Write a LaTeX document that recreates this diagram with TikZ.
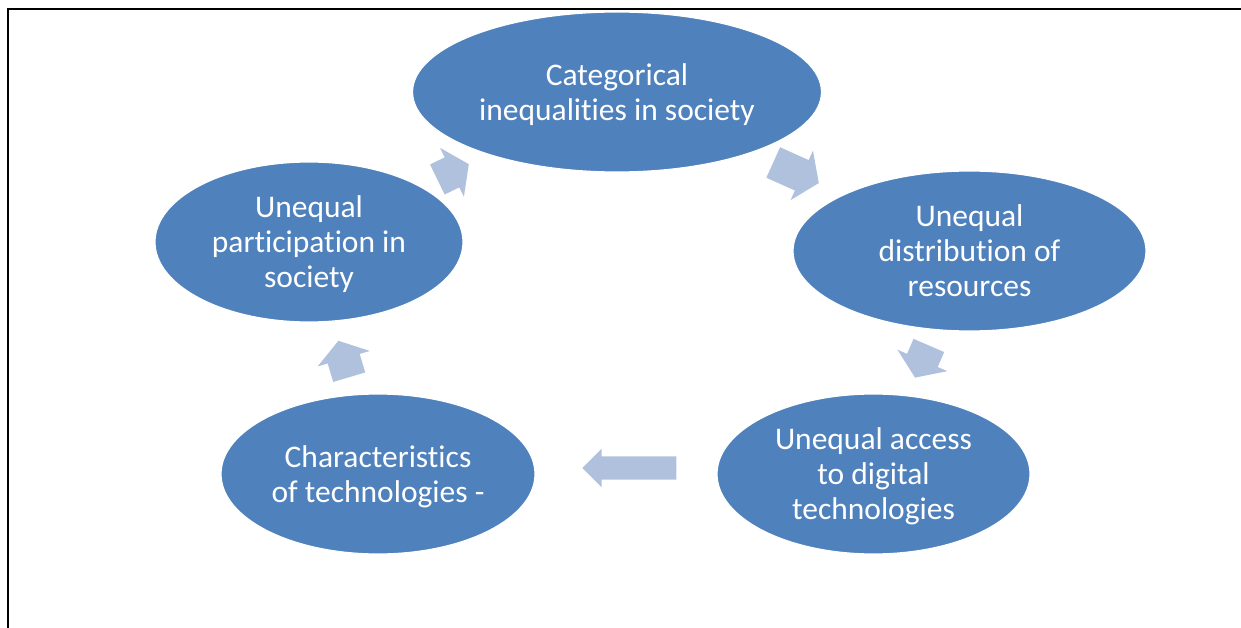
\documentclass[tikz,border=0pt]{standalone}
\usepackage{fontspec}
\setmainfont{Carlito}[Ligatures={NoCommon}]
\usetikzlibrary{shapes.geometric,shapes.arrows}
\definecolor{stageBlue}{RGB}{79,129,189}
\definecolor{arrowBlue}{RGB}{176,193,222}

\begin{document}
\begin{tikzpicture}[
        x=1pt, y=-1pt,
        stage/.style={
            ellipse, fill = stageBlue, draw = white, line width = 1.2pt, text = white, align = center,
            inner sep = 0pt, minimum height = 160pt, text depth = 0pt, font = \fontsize{31.5}{35}\selectfont
        },
        cycleArrow/.style={
            single arrow, fill = arrowBlue, inner xsep = 0pt, inner ysep = 16.5pt, minimum width = 0pt,
            single arrow head extend = 10.5pt, single arrow tip angle = 111, sloped, allow upside down
        },
    ]
    \useasboundingbox (0,0) rectangle (1241,628);
    \draw[line width = 1.7pt] (1241,9) -- (8,9) -- (8,628);

    \node (categorical) [stage, minimum width = 409pt] at (617,92) {Categorical \\ inequalities in society};
    \node (resources) [stage, minimum width = 353pt] at (969.5,251) {Unequal \\ distribution of \\ resources};
    \node (access) [stage, minimum width = 313pt] at (873.5,474) {Unequal access \\ to digital \\ technologies};
    \node (characteristics) [stage, minimum width = 314pt] at (378,474) {Characteristics \\ of technologies -};
    \node (participation) [stage, minimum width = 308pt] at (309,242) {Unequal \\ participation in \\ society};

    \path (categorical.center) -- node[cycleArrow, pos=0.493, minimum height=50pt] {} (resources.center);
    \path (resources.center) -- node[cycleArrow, pos=0.472, minimum height=35pt] {} (access.center);
    \path ([yshift=6pt]access.center) -- node[cycleArrow, pos=0.481, minimum height=94pt,
        inner ysep=11.5pt, single arrow head extend=7.5pt, single arrow tip angle=90] {} ([yshift=6pt]characteristics.center);
    \path (characteristics.center) -- node[cycleArrow, pos=0.472, minimum height=38pt] {} (participation.center);
    \path (participation.center) -- node[cycleArrow, pos=0.451, minimum height=35pt] {} (categorical.center);

\end{tikzpicture}
\end{document}
